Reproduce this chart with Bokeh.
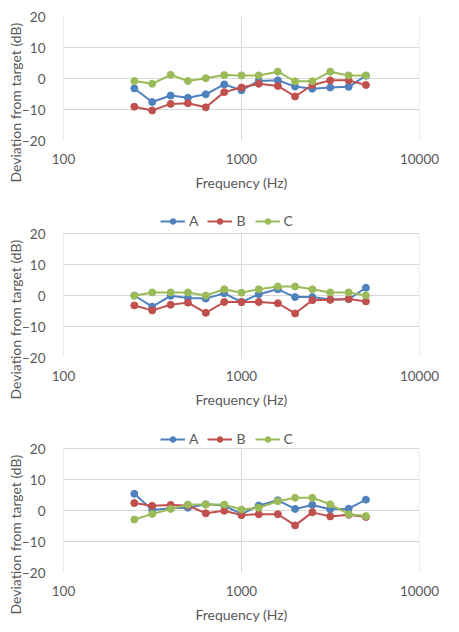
from bokeh.plotting import figure
from bokeh.layouts import column
from bokeh.models import (FixedTicker, CustomJSTickFormatter, Range1d, Legend,
                          LegendItem, Title)
from bokeh.embed import file_html
from bokeh.resources import INLINE

# One-third octave band centre frequencies (Hz)
freqs = [250, 315, 400, 500, 630, 800, 1000, 1250, 1600, 2000, 2500, 3150, 4000, 5000]

# Deviation from target (dB), top panel
a1 = [-3.2, -7.6, -5.5, -6.2, -5.1, -1.9, -3.8, -0.8, -0.6, -2.6, -3.3, -2.9, -2.7, 0.9]
b1 = [-9.1, -10.3, -8.2, -8.0, -9.3, -4.4, -2.9, -1.7, -2.4, -5.8, -2.1, -0.6, -0.6, -2.1]
c1 = [-0.8, -1.7, 1.2, -0.8, 0.1, 1.1, 1.0, 1.0, 2.2, -0.9, -0.9, 2.2, 1.0, 1.0]

# Middle panel
a2 = [0.0, -3.6, -0.1, -0.8, -1.0, 0.7, -2.1, 0.4, 2.0, -0.5, -0.5, -1.3, -1.2, 2.5]
b2 = [-3.2, -4.8, -3.0, -2.3, -5.6, -2.1, -2.1, -2.1, -2.5, -5.8, -1.5, -1.4, -1.1, -1.9]
c2 = [-0.1, 1.0, 1.0, 1.0, 0.0, 2.0, 0.9, 2.0, 2.9, 2.9, 2.0, 1.0, 1.0, 0.0]

# Bottom panel
a3 = [5.4, 0.2, 0.7, 0.9, 2.0, 1.6, -1.2, 1.6, 3.3, 0.5, 1.8, 0.4, 0.6, 3.5]
b3 = [2.4, 1.5, 1.8, 1.6, -0.9, -0.1, -1.5, -1.2, -1.2, -4.8, -0.6, -1.9, -1.4, -2.1]
c3 = [-2.9, -1.1, 0.5, 1.9, 1.9, 1.9, 0.3, 0.9, 3.0, 4.1, 4.1, 2.0, -1.2, -1.8]

series_names = ["A", "B", "C"]
series_colors = ["#4F81BD", "#C0504D", "#9BBB59"]

x_ticks = [100, 1000, 10000]
y_ticks = [-20, -10, 0, 10, 20]

FONT = "Lato"
TEXT_COLOR = "#595959"
GRID_COLOR = "#d9d9d9"
FRAME_W = 356      # plot-area width in px
GRID_H = 124       # px taken by the -20..20 dB span


def make_panel(series, top_border, bottom_border, legend_px=0, legend_drop=12):
    """One chart; legend_px extra pixels are kept above the grid for the legend."""
    y_lo, y_hi = y_ticks[0], y_ticks[-1]
    y_top = y_hi + legend_px * (y_hi - y_lo) / GRID_H
    p = figure(
        x_axis_type="log",
        x_range=Range1d(x_ticks[0], x_ticks[-1]),
        y_range=Range1d(y_lo, y_top),
        frame_width=FRAME_W, frame_height=GRID_H + legend_px,
        min_border_left=63, min_border_right=40,
        min_border_top=top_border, min_border_bottom=bottom_border,
        toolbar_location=None, output_backend="svg",
        background_fill_color="white", border_fill_color="white",
    )
    p.outline_line_color = None

    p.xaxis.ticker = FixedTicker(ticks=x_ticks)
    p.xaxis.formatter = CustomJSTickFormatter(code="return tick.toFixed(0);")
    p.yaxis.ticker = FixedTicker(ticks=y_ticks)
    p.xgrid.visible = False
    p.ygrid.ticker = FixedTicker(ticks=y_ticks)
    p.ygrid.grid_line_color = GRID_COLOR
    p.ygrid.grid_line_width = 1

    # vertical gridlines limited to the -20..20 dB span
    p.segment(x0=x_ticks, x1=x_ticks, y0=[y_lo] * len(x_ticks), y1=[y_hi] * len(x_ticks),
              line_color=GRID_COLOR, line_width=1, level="underlay")

    for ax in (p.xaxis, p.yaxis):
        ax.axis_line_color = None
        ax.major_tick_line_color = None
        ax.minor_tick_line_color = None
        ax.major_label_text_font = FONT
        ax.major_label_text_font_size = "13.5px"
        ax.major_label_text_color = TEXT_COLOR
        ax.axis_label_text_font = FONT
        ax.axis_label_text_font_size = "14px"
        ax.axis_label_text_font_style = "normal"
        ax.axis_label_text_color = TEXT_COLOR

    p.xaxis.axis_label = "Frequency (Hz)"
    p.xaxis.major_label_standoff = 7
    p.xaxis.axis_label_standoff = 7
    p.yaxis.major_label_standoff = 12

    # Vertical axis title, starting a little below the frame's bottom edge
    p.add_layout(Title(
        text="Deviation from target (dB)", align="left", offset=-42,
        text_font=FONT, text_font_size="14px", text_font_style="normal",
        text_color=TEXT_COLOR, standoff=-8,
    ), "left")

    items = []
    for name, color, vals in zip(series_names, series_colors, series):
        ln = p.line(freqs, vals, line_color=color, line_width=2)
        sc = p.scatter(freqs, vals, size=7, fill_color=color, line_color=color)
        items.append(LegendItem(label=name, renderers=[ln, sc]))

    if legend_px:
        legend = Legend(
            items=items, orientation="horizontal",
            location=(97, GRID_H + legend_px - legend_drop - 9),
            glyph_width=25, glyph_height=14, label_standoff=4, spacing=9,
            label_width=9,
            padding=0, margin=0, border_line_color=None,
            background_fill_alpha=0,
            label_text_font=FONT, label_text_font_size="14px",
            label_text_color=TEXT_COLOR,
        )
        p.add_layout(legend, "center")
    return p


p1 = make_panel([a1, b1, c1], 16, 60)
p2 = make_panel([a2, b2, c2], 8, 58, legend_px=25, legend_drop=12)
p3 = make_panel([a3, b3, c3], 9, 59, legend_px=24, legend_drop=14)

layout = column(p1, p2, p3, spacing=0)

open("out.html", "w").write(file_html(layout, INLINE))
